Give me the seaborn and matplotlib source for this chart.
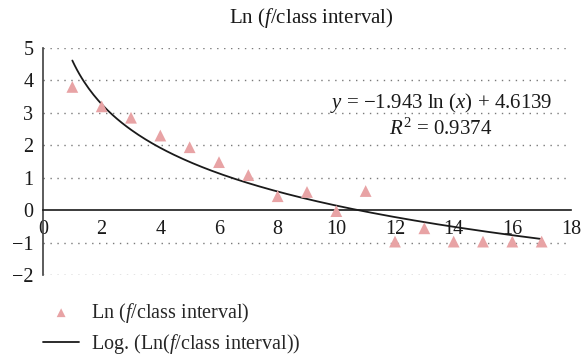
import numpy as np
import pandas as pd
import matplotlib
matplotlib.use("Agg")
import matplotlib.pyplot as plt
import seaborn as sns

# ---- data ----
x_vals = [1, 2, 3, 4, 5, 6, 7, 8, 9, 10, 11, 12, 13, 14, 15, 16, 17]
ln_vals = [3.8, 3.2, 2.85, 2.3, 1.94, 1.48, 1.08, 0.43, 0.56, -0.03, 0.59,
           -0.97, -0.56, -0.97, -0.97, -0.97, -0.97]
fit_slope = -1.943
fit_intercept = 4.6139
fit_r2 = 0.9374
x_ticks = [0, 2, 4, 6, 8, 10, 12, 14, 16, 18]
y_ticks = [-2, -1, 0, 1, 2, 3, 4, 5]

sns.set_style("white")
plt.rcParams["font.family"] = ["Liberation Serif", "DejaVu Serif"]
plt.rcParams["mathtext.fontset"] = "custom"
plt.rcParams["mathtext.rm"] = "Liberation Serif"
plt.rcParams["mathtext.it"] = "Liberation Serif:italic"

df = pd.DataFrame({"x": x_vals, "y": ln_vals})
xf = np.linspace(min(x_vals), max(x_vals), 200)
fit_df = pd.DataFrame({"x": xf, "y": fit_slope * np.log(xf) + fit_intercept})

W, H = 582, 355
fig = plt.figure(figsize=(W / 100, H / 100), dpi=100)
ax = fig.add_axes([43 / W, 1 - 275 / H, (571 - 43) / W, (275 - 48) / H])

for yv in y_ticks:
    if yv != 0:
        ax.axhline(yv, color="#7a7a7a", lw=1.0, ls=(0, (1, 4)), zorder=0)

sns.lineplot(data=fit_df, x="x", y="y", ax=ax, color="#1a1a1a", lw=1.3,
             label="Log. (Ln($\\mathit{f}$/class interval))", zorder=2)
sns.scatterplot(data=df, x="x", y="y", ax=ax, marker="^", s=72,
                color="#E8A3A5", edgecolor="none",
                label="Ln ($\\mathit{f}$/class interval)", zorder=3)

ax.set_xlim(0, 18)
ax.set_ylim(-2, 5)
ax.set_xticks(x_ticks)
ax.set_yticks(y_ticks)
ax.set_xlabel("")
ax.set_ylabel("")
for s in ["top", "right"]:
    ax.spines[s].set_visible(False)
ax.spines["bottom"].set_position(("data", 0))
ax.spines["bottom"].set_color("#1a1a1a")
ax.spines["bottom"].set_linewidth(1.2)
ax.spines["left"].set_color("#404040")
ax.spines["left"].set_linewidth(1.2)
ax.tick_params(axis="both", length=0, labelsize=14.5, colors="#1a1a1a")
ax.tick_params(axis="x", pad=7)
ax.tick_params(axis="y", pad=7)
ax.set_yticklabels(["\u22122", "\u22121", "0", "1", "2", "3", "4", "5"])

fig.text(311 / W, 1 - 18 / H, "Ln ($\\mathit{f}$/class interval)",
         ha="center", va="center", fontsize=15, color="#1a1a1a")

fig.text(441 / W, 1 - 103 / H, "$y$ = \u22121.943 ln ($x$) + 4.6139",
         ha="center", va="center", fontsize=15, color="#1a1a1a")
fig.text(441 / W, 1 - 129 / H, "$R^2$ = %.4f" % fit_r2,
         ha="center", va="center", fontsize=15, color="#1a1a1a")

handles, labels = ax.get_legend_handles_labels()
order = [1, 0]
ax.legend([handles[i] for i in order], [labels[i] for i in order],
          loc="upper left", bbox_to_anchor=(43 / W, 1 - 301 / H),
          bbox_transform=fig.transFigure, frameon=False, fontsize=14.5,
          handlelength=1.8, handletextpad=0.6, labelspacing=0.35,
          borderaxespad=0, borderpad=0, markerscale=0.75)

fig.savefig("out.png", dpi=100)
